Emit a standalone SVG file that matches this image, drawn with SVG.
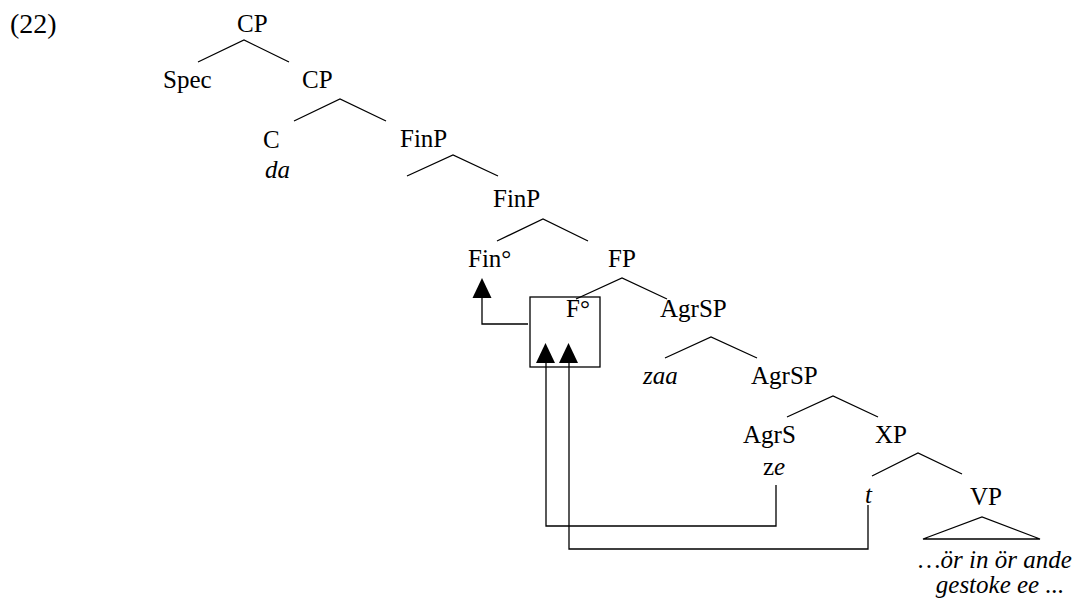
<svg xmlns="http://www.w3.org/2000/svg" width="1078" height="599" viewBox="0 0 1078 599">
<style>
.t text{font-size:25px;fill:#000}
.it{font-style:italic}
.br{fill:none;stroke:#000;stroke-width:1.3}
.cn{fill:none;stroke:#000;stroke-width:1.3}
.ah{fill:#000;stroke:none}
</style>
<rect width="1078" height="599" fill="#fff"/>
<g class="t" font-family="'Liberation Serif', 'Times New Roman', 'DejaVu Serif', serif">
<text x="10" y="33" style="font-size:28px">(22)</text>
<g id="n-cp1"><text x="237" y="32">CP</text></g>
<g id="n-spec"><text x="163" y="88">Spec</text></g>
<g id="n-cp2"><text x="302" y="88">CP</text></g>
<g id="n-c"><text x="263" y="148">C</text><text class="it" x="265" y="178">da</text></g>
<g id="n-finp1"><text x="400" y="147">FinP</text></g>
<g id="n-finp2"><text x="493" y="207">FinP</text></g>
<g id="n-fin0"><text x="468" y="267">Fin°</text></g>
<g id="n-fp"><text x="608" y="267">FP</text></g>
<g id="n-f0"><rect x="530" y="297" width="70" height="70" fill="none" stroke="#000" stroke-width="1.3"/><text x="566" y="317">F°</text></g>
<g id="n-agrsp1"><text x="660" y="317">AgrSP</text></g>
<g id="n-zaa"><text class="it" x="643" y="384">zaa</text></g>
<g id="n-agrsp2"><text x="751" y="384">AgrSP</text></g>
<g id="n-agrs"><text x="743" y="443">AgrS</text><text x="763" y="475">z<tspan class="it">e</tspan></text></g>
<g id="n-xp"><text x="875" y="443">XP</text></g>
<g id="n-t"><text class="it" x="865" y="503">t</text></g>
<g id="n-vp"><text x="970" y="505">VP</text>
<path class="br" d="M923,539 L982,517 L1040,539 Z"/>
<text class="it" x="995" y="568" text-anchor="middle">…ör in ör ande</text>
<text class="it" x="1000" y="593" text-anchor="middle">gestoke ee ...</text></g>
</g>
<g id="connectors">
<path class="br" d="M198,62 L244,40 L289,62"/>
<path class="br" d="M294,121 L340,99 L386,121"/>
<path class="br" d="M407,176 L453,155 L498,176"/>
<path class="br" d="M497,241 L543,219 L588,241"/>
<path class="br" d="M576,299 L622,278 L667,299"/>
<path class="br" d="M665,358 L711,337 L757,358"/>
<path class="br" d="M787,417 L833,396 L878,417"/>
<path class="br" d="M872,476 L918,453 L962,474"/>
<path class="cn" d="M528,324 H482 V296"/>
<polygon class="ah" points="482,278 472.5,298 491.5,298"/>
<path class="cn" d="M776,485 V526 H546 V361"/>
<polygon class="ah" points="545.5,343 536,363 555,363"/>
<path class="cn" d="M868,505 V549 H569 V361"/>
<polygon class="ah" points="568.5,343 559,363 578,363"/>
</g>
</svg>
